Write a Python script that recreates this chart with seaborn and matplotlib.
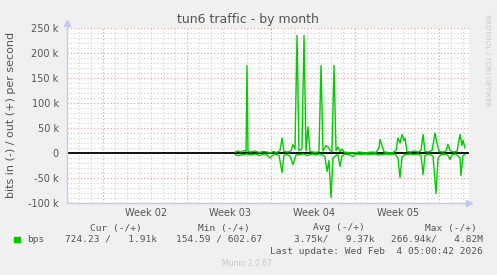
import numpy as np
import pandas as pd
import matplotlib
matplotlib.use("Agg")
import matplotlib.pyplot as plt
import seaborn as sns

# ---- data (days since left edge of the graph, values in k bits/s) ----
out_day = [14.00, 14.25, 14.50, 14.75, 14.92, 15.00, 15.08, 15.33, 15.67, 16.00,
           16.33, 16.67, 16.92, 17.17, 17.50, 17.75, 17.92, 18.08, 18.42, 18.67,
           18.83, 19.00, 19.17, 19.33, 19.58, 19.75, 19.92, 20.08, 20.25, 20.50,
           20.75, 21.00, 21.17, 21.33, 21.58, 21.75, 21.92, 22.08, 22.25, 22.42,
           22.58, 22.75, 22.92, 23.08, 23.42, 23.75, 24.08, 24.42, 24.75, 25.08,
           25.42, 25.75, 26.00, 26.08, 26.25, 26.42, 26.75, 27.08, 27.42, 27.58,
           27.75, 27.92, 28.08, 28.17, 28.33, 28.58, 28.92, 29.25, 29.50, 29.67,
           29.83, 30.08, 30.42, 30.67, 30.83, 31.00, 31.33, 31.58, 31.75, 31.92,
           32.17, 32.50, 32.75, 32.92, 33.00, 33.17]
out_k = [2, 4, 2, 5, 3, 175, 3, 2, 4, 1,
         3, 2, 0, 3, 1, 5, 30, 3, 2, 5,
         17, 8, 235, 5, 8, 235, 4, 52, 3, 2,
         1, 3, 175, 4, 15, 12, 5, 3, 175, 5,
         12, 3, 8, 2, 1, 0, 1, 2, 0, 1,
         2, 1, 10, 27, 15, 2, 1, 0, 5, 30,
         20, 37, 25, 30, 3, 2, 4, 2, 5, 37,
         3, 2, 5, 40, 20, 3, 2, 4, 17, 5,
         2, 3, 37, 15, 25, 10]

in_day = [14.00, 14.25, 14.50, 14.75, 15.00, 15.25, 15.50, 15.75, 16.00, 16.25,
          16.58, 16.92, 17.08, 17.33, 17.67, 17.92, 18.08, 18.33, 18.58, 18.83,
          19.08, 19.42, 19.75, 20.00, 20.25, 20.50, 20.75, 21.00, 21.25, 21.50,
          21.67, 21.83, 22.00, 22.17, 22.42, 22.58, 22.75, 22.92, 23.17, 23.50,
          23.83, 24.08, 24.42, 24.83, 25.25, 25.67, 26.00, 26.25, 26.58, 26.92,
          27.33, 27.58, 27.75, 27.92, 28.17, 28.58, 28.92, 29.25, 29.50, 29.67,
          29.83, 30.17, 30.50, 30.75, 30.92, 31.17, 31.50, 31.75, 31.92, 32.08,
          32.42, 32.75, 32.83, 33.00, 33.17]
in_k = [3, 5, 4, 3, 2, 4, 3, 2, 5, 3,
        2, 10, 6, 2, 5, 39, 5, 3, 6, 23,
        4, 3, 2, 5, 3, 2, 4, 2, 3, 8,
        37, 15, 89, 10, 5, 3, 27, 6, 2, 3,
        7, 2, 3, 2, 3, 2, 4, 3, 2, 3,
        2, 10, 49, 8, 3, 2, 3, 2, 5, 43,
        5, 2, 6, 81, 10, 3, 2, 5, 13, 3,
        2, 10, 45, 5, 3]

week_bounds = [3, 10, 17, 24, 31]
week_centers = [6.58, 13.58, 20.58, 27.58]
week_labels = ["Week 02", "Week 03", "Week 04", "Week 05"]
y_ticks = [-100, -50, 0, 50, 100, 150, 200, 250]
y_ticklabels = ["-100 k", "-50 k", "0", "50 k", "100 k", "150 k", "200 k", "250 k"]

legend_head = ["Cur (-/+)", "Min (-/+)", "Avg (-/+)", "Max (-/+)"]
legend_vals = ["724.23 /   1.91k", "154.59 / 602.67", "3.75k/   9.37k", "266.94k/   4.82M"]
series_name = "bps"
last_update = "Last update: Wed Feb  4 05:00:42 2026"

# ---- figure ----
W, H = 497, 275
BG = "#F0F0F0"
TXT = "#555555"
GREEN = "#00CC00"
AXC = "#C4C8F0"

sns.set_style("white")
plt.rcParams["font.family"] = ["DejaVu Sans"]

fig = plt.figure(figsize=(W / 100, H / 100), dpi=100, facecolor=BG)
L, R, T, B = 67, 469, 28, 203
ax = fig.add_axes([L / W, (H - B) / H, (R - L) / W, (B - T) / H])
ax.set_facecolor("white")

df_out = pd.DataFrame({"day": out_day, "val": out_k})
df_in = pd.DataFrame({"day": in_day, "val": [-v for v in in_k]})

ax.axhline(0, color="black", lw=1.3, zorder=2)
sns.lineplot(data=df_in, x="day", y="val", ax=ax, color=GREEN, lw=1.0,
             estimator=None, sort=False, zorder=3)
sns.lineplot(data=df_out, x="day", y="val", ax=ax, color=GREEN, lw=1.0,
             estimator=None, sort=False, zorder=3)

ax.set_xlim(0, (R - L) / 12)
ax.set_ylim(-100, 250)

ax.set_xticks(week_bounds)
ax.set_xticklabels([])
ax.set_xticks(np.arange(1, 34), minor=True)
ax.set_yticks(y_ticks)
ax.set_yticklabels(y_ticklabels)
ax.set_yticks(np.arange(-100, 251, 10), minor=True)

ax.grid(which="minor", color="#CFCFCF", lw=0.8, ls=(0, (1, 2)), zorder=0)
ax.grid(which="major", color="#E89A9A", lw=0.8, ls=(0, (1, 2)), zorder=1)

ax.tick_params(axis="y", which="major", length=2, color=AXC, labelsize=7,
               labelcolor=TXT, pad=4)
ax.tick_params(axis="y", which="minor", length=0)
ax.tick_params(axis="x", which="major", length=2, color="#E09090", direction="in")
ax.tick_params(axis="x", which="minor", length=0)

for s in ["top", "right"]:
    ax.spines[s].set_visible(False)
for s in ["left", "bottom"]:
    ax.spines[s].set_color(AXC)
    ax.spines[s].set_linewidth(1.0)

# arrows on axes
ax.plot([0], [1.03], marker="^", ms=4, color=AXC, transform=ax.transAxes,
        clip_on=False, zorder=5)
ax.plot([1.0], [0], marker=">", ms=4, color=AXC, transform=ax.transAxes,
        clip_on=False, zorder=5)
ax.plot([0, 0], [1.0, 1.03], color=AXC, lw=1.0, transform=ax.transAxes, clip_on=False)

ax.set_xlabel("")
ax.set_ylabel("")
fig.text(11 / W, 1 - 115 / H, "bits in (-) / out (+) per second", rotation=90,
         ha="center", va="center", fontsize=8, color=TXT)

# week labels
for c, lab in zip(week_centers, week_labels):
    ax.text(c, -(212.5 - B) / (B - T), lab, transform=ax.get_xaxis_transform(),
            ha="center", va="center", fontsize=7, color=TXT)

# title
fig.text(248 / W, 1 - 19 / H, "tun6 traffic - by month", ha="center", va="center",
         fontsize=9, color=TXT)

# side text
fig.text(487 / W, 1 - 60 / H, "RRDTOOL / TOBI OETIKER", rotation=270, ha="center",
         va="center", fontsize=5.2, color="#C8C8C8")

# legend
mono = {"family": "DejaVu Sans Mono", "size": 6.8, "color": TXT}
head_x = [142, 250, 365, 477]
for x, t in zip(head_x, legend_head):
    fig.text(x / W, 1 - 228 / H, t, ha="right", va="center", **mono)
val_x = [157, 262, 375, 483]
for x, t in zip(val_x, legend_vals):
    fig.text(x / W, 1 - 239.5 / H, t, ha="right", va="center", **mono)
fig.patches.append(plt.Rectangle((14 / W, 1 - 242 / H), 5.5 / W, 5.5 / H,
                                 transform=fig.transFigure, color=GREEN))
fig.text(27 / W, 1 - 239.5 / H, series_name, ha="left", va="center", **mono)
fig.text(483 / W, 1 - 251 / H, last_update, ha="right", va="center", **mono)

fig.text(247 / W, 1 - 264 / H, "Munin 2.0.67", ha="center", va="center",
         fontsize=5.5, color="#C8C8C8")

fig.savefig("out.png", dpi=100, facecolor=BG)
